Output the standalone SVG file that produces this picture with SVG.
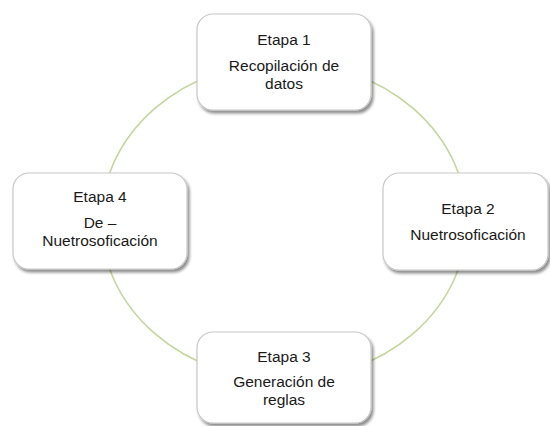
<svg xmlns="http://www.w3.org/2000/svg" width="550" height="426" viewBox="0 0 550 426">
<defs>
<filter id="sh" x="-10%" y="-10%" width="125%" height="130%">
<feGaussianBlur in="SourceAlpha" stdDeviation="1.5"/>
<feOffset dx="2" dy="3" result="b"/>
<feComponentTransfer><feFuncA type="linear" slope="0.45"/></feComponentTransfer>
<feMerge><feMergeNode/><feMergeNode in="SourceGraphic"/></feMerge>
</filter>
</defs>
<style>
.box{fill:#ffffff;stroke:#c8c8c8;stroke-width:1.2;filter:url(#sh)}
.t{font-family:"Liberation Sans",Arial,sans-serif;font-size:15.5px;fill:#1a1a1a;text-anchor:middle}
.conn{fill:none;stroke:#c3d69b;stroke-width:1.6}
</style>
<rect width="550" height="426" fill="#ffffff"/>
<g id="connectors">
<ellipse class="conn" cx="284" cy="221" rx="183" ry="159"/>
</g>
<g id="etapa1">
<rect class="box" x="197" y="14" width="174" height="96" rx="16"/>
<text class="t" x="284" y="45">Etapa 1</text>
<text class="t" x="284" y="71">Recopilación de</text>
<text class="t" x="284" y="89">datos</text>
</g>
<g id="etapa2">
<rect class="box" x="383" y="173" width="165" height="97" rx="16"/>
<text class="t" x="468" y="214">Etapa 2</text>
<text class="t" x="468" y="240">Nuetrosoficación</text>
</g>
<g id="etapa3">
<rect class="box" x="197" y="332" width="174" height="91" rx="16"/>
<text class="t" x="284" y="362">Etapa 3</text>
<text class="t" x="284" y="387">Generación de</text>
<text class="t" x="284" y="405">reglas</text>
</g>
<g id="etapa4">
<rect class="box" x="13" y="173" width="174" height="96" rx="16"/>
<text class="t" x="100" y="202">Etapa 4</text>
<text class="t" x="100" y="228">De –</text>
<text class="t" x="100" y="246">Nuetrosoficación</text>
</g>
</svg>
